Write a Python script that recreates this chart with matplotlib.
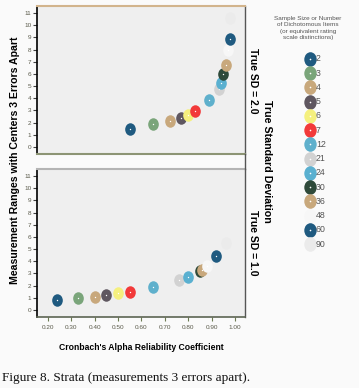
import matplotlib
matplotlib.use("Agg")
import matplotlib.pyplot as plt
from matplotlib.path import Path
from matplotlib.transforms import Affine2D
from matplotlib.lines import Line2D

# ---------------- DATA ----------------
sizes = ["2", "3", "4", "5", "6", "7", "12", "21", "24", "30", "36", "48", "60", "90"]
colors = ["#1f5a80", "#7aa57a", "#c8a87c", "#5f5760", "#f5f07e", "#f23a3a", "#5fb0cc",
          "#d2d2d2", "#5ab0d0", "#2f4a3a", "#c8a87c", "#f7f7f7", "#1f5a80", "#ebebeb"]

alpha_sd2 = [0.55, 0.65, 0.72, 0.77, 0.80, 0.83, 0.89, 0.93, 0.94, 0.95, 0.96, 0.97, 0.98, 0.98]
strata_sd2 = [1.48, 1.87, 2.15, 2.40, 2.60, 2.95, 3.90, 4.75, 5.25, 6.00, 6.70, 7.95, 8.90, 10.55]

alpha_sd1 = [0.24, 0.33, 0.40, 0.45, 0.50, 0.55, 0.65, 0.76, 0.80, 0.85, 0.86, 0.88, 0.92, 0.96]
strata_sd1 = [0.84, 0.98, 1.08, 1.22, 1.38, 1.49, 1.90, 2.47, 2.71, 3.20, 3.26, 3.61, 4.43, 5.50]

x_ticks = [0.2, 0.3, 0.4, 0.5, 0.6, 0.7, 0.8, 0.9, 1.0]
y_ticks = list(range(0, 12))

NARROW = ["Liberation Sans Narrow", "Liberation Sans", "DejaVu Sans"]
BOLD = ["Liberation Sans", "DejaVu Sans"]

# slightly tall ellipse marker
ellipse = Path.unit_circle().transformed(Affine2D().scale(0.85, 1.0))

W, H = 359, 388
fig = plt.figure(figsize=(W / 100, H / 100), dpi=100)
fig.patch.set_facecolor("#fafafa")


def fx(px):
    return px / W


def fy(py):
    return 1 - py / H


ax_top = fig.add_axes([fx(37), fy(154), fx(245) - fx(37), fy(6) - fy(154)])
ax_bot = fig.add_axes([fx(37), fy(317), fx(245) - fx(37), fy(169) - fy(317)])


def draw_panel(ax, xs, ys, show_x):
    for i in range(len(sizes)):
        ax.plot(xs[i], ys[i], marker=ellipse, ms=9.0, color=colors[i],
                mec="none", ls="none", zorder=3)
        if i != 13:
            ax.plot(xs[i], ys[i], marker="o", ms=1.0, color="white",
                    mec="none", ls="none", zorder=3)
    ax.set_facecolor("#efefef")
    ax.set_xlim(0.153, 1.043)
    ax.set_ylim(-0.57, 11.57)
    ax.set_yticks(y_ticks)
    ax.set_yticklabels([str(v) for v in y_ticks], fontsize=4.6, family=NARROW,
                       color="#5a5a4a")
    ax.tick_params(axis="y", length=3, width=0.8, color="#404040", pad=1)
    if show_x:
        ax.set_xticks(x_ticks)
        ax.set_xticklabels(["%.2f" % v for v in x_ticks], fontsize=4.6,
                           family=NARROW, color="#5a5a4a")
        ax.tick_params(axis="x", length=3, width=0.8, color="#6a7a50", pad=3)
    else:
        ax.set_xticks([])
    ax.spines["left"].set_color("black")
    ax.spines["left"].set_linewidth(1.2)
    ax.spines["right"].set_color("#555555")
    ax.spines["right"].set_linewidth(1.0)


draw_panel(ax_top, alpha_sd2, strata_sd2, False)
draw_panel(ax_bot, alpha_sd1, strata_sd1, True)

ax_top.spines["top"].set_color("#d2b48c")
ax_top.spines["top"].set_linewidth(1.5)
ax_top.spines["bottom"].set_color("#8c9474")
ax_top.spines["bottom"].set_linewidth(1.5)
ax_bot.spines["top"].set_color("#b4b4b4")
ax_bot.spines["top"].set_linewidth(1.5)
ax_bot.spines["bottom"].set_color("#5c6452")
ax_bot.spines["bottom"].set_linewidth(1.2)

# right frame line across the gap
fig.add_artist(Line2D([fx(245), fx(245)], [fy(154), fy(169)], color="#555555", lw=1.0))

# ---------------- LABELS ----------------
fig.text(fx(15), fy(160), "Measurement Ranges with Centers 3 Errors Apart", rotation=90,
         ha="center", va="center", fontsize=7.6, fontweight="bold", family=BOLD)
fig.text(fx(141), fy(347), "Cronbach's Alpha Reliability Coefficient", ha="center",
         va="center", fontsize=6.2, fontweight="bold", family=NARROW)
fig.text(fx(253), fy(81), "True SD = 2.0", rotation=-90, ha="center", va="center",
         fontsize=7.5, fontweight="bold", family=BOLD)
fig.text(fx(253), fy(243), "True SD = 1.0", rotation=-90, ha="center", va="center",
         fontsize=7.5, fontweight="bold", family=BOLD)
fig.text(fx(267), fy(161), "True Standard Deviation", rotation=-90, ha="center",
         va="center", fontsize=7.7, fontweight="bold", family=BOLD)

fig.text(fx(2), fy(378), "Figure 8. Strata (measurements 3 errors apart).", ha="left",
         va="center", fontsize=9.5, family=["Liberation Serif", "DejaVu Serif"],
         color="#111111")

# ---------------- LEGEND ----------------
fig.text(fx(308), fy(28), "Sample Size or Number\nof Dichotomous Items\n(or equivalent rating\nscale distinctions)",
         ha="center", va="center", fontsize=4.6, family=NARROW, color="#555555",
         linespacing=1.3)

lax = fig.add_axes([fx(300), fy(251), fx(340) - fx(300), fy(52) - fy(251)])
lax.set_xlim(0, 1)
lax.set_ylim(13.49, -0.49)
lax.axis("off")
for i, s in enumerate(sizes):
    lax.plot(0.25, i, marker=ellipse, ms=10.5, color=colors[i], mec="none", ls="none")
    if i not in (11, 13):
        lax.plot(0.25, i, marker="o", ms=1.2, color="white", mec="none", ls="none")
    lax.text(0.4, i, s, ha="left", va="center", fontsize=6.3, family=NARROW,
             color="#555555")

plt.savefig("out.png", dpi=100, facecolor=fig.get_facecolor())
plt.close()
